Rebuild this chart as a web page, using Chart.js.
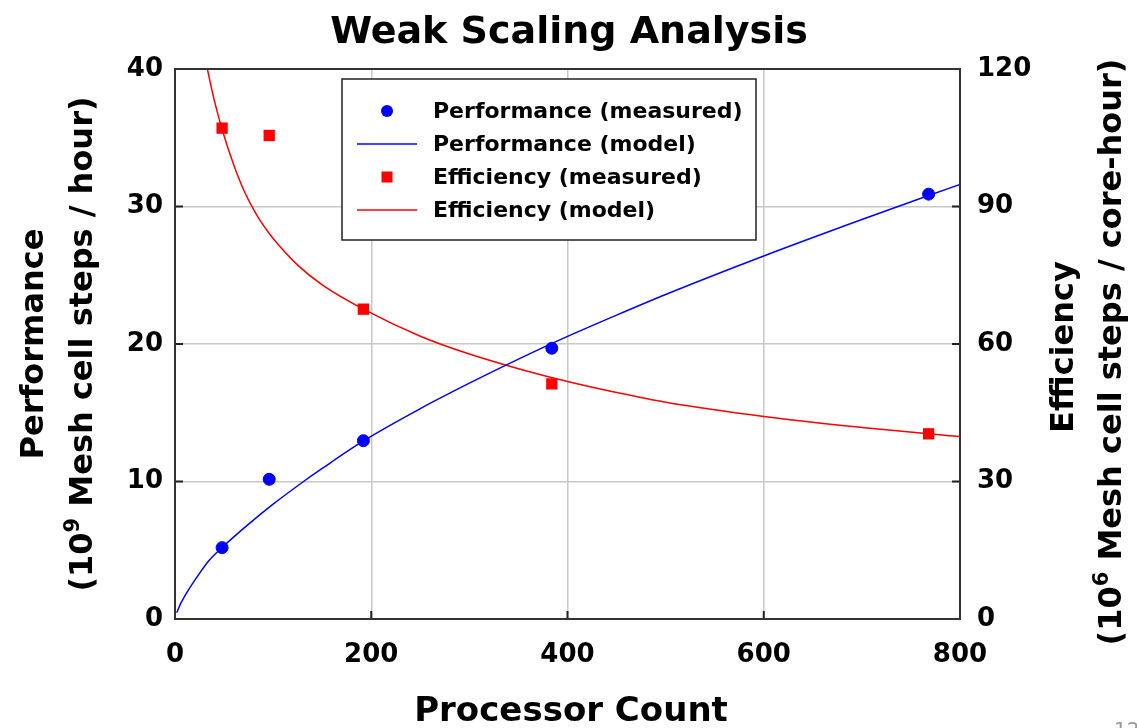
<!DOCTYPE html>
<html>
<head>
<meta charset="utf-8">
<script src="https://cdn.jsdelivr.net/npm/chart.js@4.4.0/dist/chart.umd.min.js"></script>
<style>
  body { margin: 0; background: #fff; }
  canvas { display: block; }
</style>
</head>
<body>
<canvas id="scaling" width="1137" height="728"></canvas>
<script>
// processor counts of the runs
const procCounts = [48, 96, 192, 384, 768];
const perfMeasured = [5.19, 10.16, 12.97, 19.69, 30.9];
const effMeasured = [107.1, 105.5, 67.6, 51.3, 40.4];

// model curves
const perfModelX = [1.7, 6, 13.6, 24.8, 34, 48, 75, 100, 131, 150, 192, 250, 300, 350, 400, 450, 500, 600, 700, 768, 800];
const perfModelY = [0.46, 1.15, 2.1, 3.3, 4.2, 5.2, 6.9, 8.35, 10.0, 10.95, 12.95, 15.3, 17.15, 18.9, 20.55, 22.1, 23.6, 26.4, 29.05, 30.8, 31.6];
const effModelX = [30, 33, 40, 48, 60, 70, 82, 92, 100, 125, 150, 192, 250, 300, 350, 400, 450, 500, 600, 700, 768, 800];
const effModelY = [123.2, 120, 113.2, 106.8, 99, 93.6, 88.6, 85.3, 83.0, 77.2, 72.9, 67.6, 61.7, 57.8, 54.6, 51.8, 49.4, 47.3, 44.2, 41.8, 40.4, 39.8];

const xTicks = [0, 200, 400, 600, 800];
const perfTicks = [0, 10, 20, 30, 40];
const effTicks = [0, 30, 60, 90, 120];

const FONT = "'DejaVu Sans', Verdana, sans-serif";

function pts(xs, ys) {
    return xs.map((x, i) => ({ x: x, y: ys[i] }));
}

// rotated axis title line with a superscript, centred on (cx, cy)
function vLine(ctx, cx, cy, pre, sup, post) {
    const big = 'bold 32px ' + FONT, small = 'bold 21px ' + FONT;
    ctx.font = big;
    const w1 = ctx.measureText(pre).width, w3 = ctx.measureText(post).width;
    ctx.font = small;
    const w2 = ctx.measureText(sup).width;
    const total = w1 + w2 + w3;
    ctx.save();
    ctx.translate(cx, cy);
    ctx.rotate(-Math.PI / 2);
    ctx.textAlign = 'left';
    let x = -total / 2;
    ctx.font = big;
    ctx.fillText(pre, x, 0);
    x += w1;
    ctx.font = small;
    ctx.fillText(sup, x, -13);
    x += w2;
    ctx.font = big;
    ctx.fillText(post, x, 0);
    ctx.restore();
}

const decor = {
    id: 'decor',
    afterDraw(chart) {
        const ctx = chart.ctx;
        const a = chart.chartArea;
        const ys = chart.scales.y, yr = chart.scales.y2, xs = chart.scales.x;
        ctx.save();

        // inward tick marks
        ctx.strokeStyle = '#222';
        ctx.lineWidth = 2;
        ctx.beginPath();
        perfTicks.forEach(v => {
            const p = ys.getPixelForValue(v);
            ctx.moveTo(a.left, p); ctx.lineTo(a.left + 8, p);
        });
        effTicks.forEach(v => {
            const p = yr.getPixelForValue(v);
            ctx.moveTo(a.right, p); ctx.lineTo(a.right - 8, p);
        });
        xTicks.forEach(v => {
            const p = xs.getPixelForValue(v);
            ctx.moveTo(p, a.bottom); ctx.lineTo(p, a.bottom - 8);
        });
        ctx.stroke();

        // frame
        ctx.strokeStyle = '#333';
        ctx.lineWidth = 2;
        ctx.strokeRect(a.left, a.top, a.right - a.left, a.bottom - a.top);

        // title
        ctx.fillStyle = '#000';
        ctx.textAlign = 'center';
        ctx.textBaseline = 'alphabetic';
        ctx.font = 'bold 38px ' + FONT;
        ctx.fillText('Weak Scaling Analysis', 569, 43);

        // x axis title
        ctx.font = 'bold 34px ' + FONT;
        ctx.fillText('Processor Count', 571, 721);

        // y axis titles, both read bottom to top
        const midY = (a.top + a.bottom) / 2;
        ctx.font = 'bold 32px ' + FONT;
        ctx.save();
        ctx.translate(43, midY);
        ctx.rotate(-Math.PI / 2);
        ctx.fillText('Performance', 0, 0);
        ctx.restore();
        vLine(ctx, 92, midY, '(10', '9', ' Mesh cell steps / hour)');
        ctx.font = 'bold 32px ' + FONT;
        ctx.save();
        ctx.translate(1073, midY + 3);
        ctx.rotate(-Math.PI / 2);
        ctx.textAlign = 'center';
        ctx.fillText('Efficiency', 0, 0);
        ctx.restore();
        vLine(ctx, 1121, midY + 8, '(10', '6', ' Mesh cell steps / core-hour)');

        // legend box
        const lx = 342, ly = 79, lw = 414, lh = 161;
        ctx.fillStyle = '#fff';
        ctx.fillRect(lx, ly, lw, lh);
        ctx.strokeStyle = '#222';
        ctx.lineWidth = 1.5;
        ctx.strokeRect(lx, ly, lw, lh);
        ctx.font = 'bold 22px ' + FONT;
        ctx.textAlign = 'left';
        ctx.textBaseline = 'middle';
        chart.data.datasets.forEach((ds, i) => {
            const cy = 111 + i * 33;
            const sx = 387;
            if (ds.showLine) {
                ctx.strokeStyle = ds.borderColor;
                ctx.lineWidth = 1.5;
                ctx.beginPath();
                ctx.moveTo(357, cy); ctx.lineTo(417, cy);
                ctx.stroke();
            } else if (ds.pointStyle === 'rect') {
                ctx.fillStyle = ds.backgroundColor;
                ctx.fillRect(sx - 5.5, cy - 5.5, 11, 11);
            } else {
                ctx.fillStyle = ds.backgroundColor;
                ctx.beginPath();
                ctx.arc(sx, cy, 6, 0, Math.PI * 2);
                ctx.fill();
            }
            ctx.fillStyle = '#000';
            ctx.fillText(ds.label, 433, cy + 1);
        });

        // page number in the corner
        ctx.fillStyle = '#999';
        ctx.font = '20px ' + FONT;
        ctx.textAlign = 'left';
        ctx.textBaseline = 'alphabetic';
        ctx.fillText('12', 1114, 736);

        ctx.restore();
    }
};

const tickFont = { family: FONT, size: 26, weight: 'bold' };

new Chart(document.getElementById('scaling'), {
    type: 'scatter',
    data: {
        datasets: [
            {
                label: 'Performance (measured)',
                data: pts(procCounts, perfMeasured),
                yAxisID: 'y',
                showLine: false,
                pointStyle: 'circle',
                pointRadius: 6,
                borderWidth: 1,
                borderColor: '#0000ff',
                backgroundColor: '#0000ff',
                order: 0
            },
            {
                label: 'Performance (model)',
                data: pts(perfModelX, perfModelY),
                yAxisID: 'y',
                showLine: true,
                pointRadius: 0,
                borderWidth: 1.5,
                borderColor: '#0000ff',
                backgroundColor: '#0000ff',
                cubicInterpolationMode: 'monotone',
                order: 2
            },
            {
                label: 'Efficiency (measured)',
                data: pts(procCounts, effMeasured),
                yAxisID: 'y2',
                showLine: false,
                pointStyle: 'rect',
                pointRadius: 8,
                borderWidth: 0,
                borderColor: '#ff0000',
                backgroundColor: '#ff0000',
                order: 0
            },
            {
                label: 'Efficiency (model)',
                data: pts(effModelX, effModelY),
                yAxisID: 'y2',
                showLine: true,
                pointRadius: 0,
                borderWidth: 1.5,
                borderColor: '#ff0000',
                backgroundColor: '#ff0000',
                cubicInterpolationMode: 'monotone',
                order: 2
            }
        ]
    },
    options: {
        responsive: false,
        animation: false,
        layout: { padding: { top: 69, left: 0, right: 0, bottom: 0 } },
        plugins: {
            legend: { display: false },
            title: { display: false },
            tooltip: { enabled: false }
        },
        scales: {
            x: {
                type: 'linear',
                min: 0, max: 800,
                afterBuildTicks: s => { s.ticks = xTicks.map(v => ({ value: v })); },
                afterFit: s => { s.height = 109; },
                grid: { color: '#c8c8c8', lineWidth: 1.5, drawTicks: false },
                border: { display: false },
                ticks: { font: tickFont, color: '#000', padding: 21, maxRotation: 0 }
            },
            y: {
                position: 'left',
                min: 0, max: 40,
                afterBuildTicks: s => { s.ticks = perfTicks.map(v => ({ value: v })); },
                afterFit: s => { s.width = 175; },
                grid: { color: '#c8c8c8', lineWidth: 1.5, drawTicks: false },
                border: { display: false },
                ticks: { font: tickFont, color: '#000', padding: 12 }
            },
            y2: {
                position: 'right',
                min: 0, max: 120,
                afterBuildTicks: s => { s.ticks = effTicks.map(v => ({ value: v })); },
                afterFit: s => { s.width = 177; },
                grid: { display: false, drawTicks: false },
                border: { display: false },
                ticks: { font: tickFont, color: '#000', padding: 17 }
            }
        }
    },
    plugins: [decor]
});
</script>
</body>
</html>
